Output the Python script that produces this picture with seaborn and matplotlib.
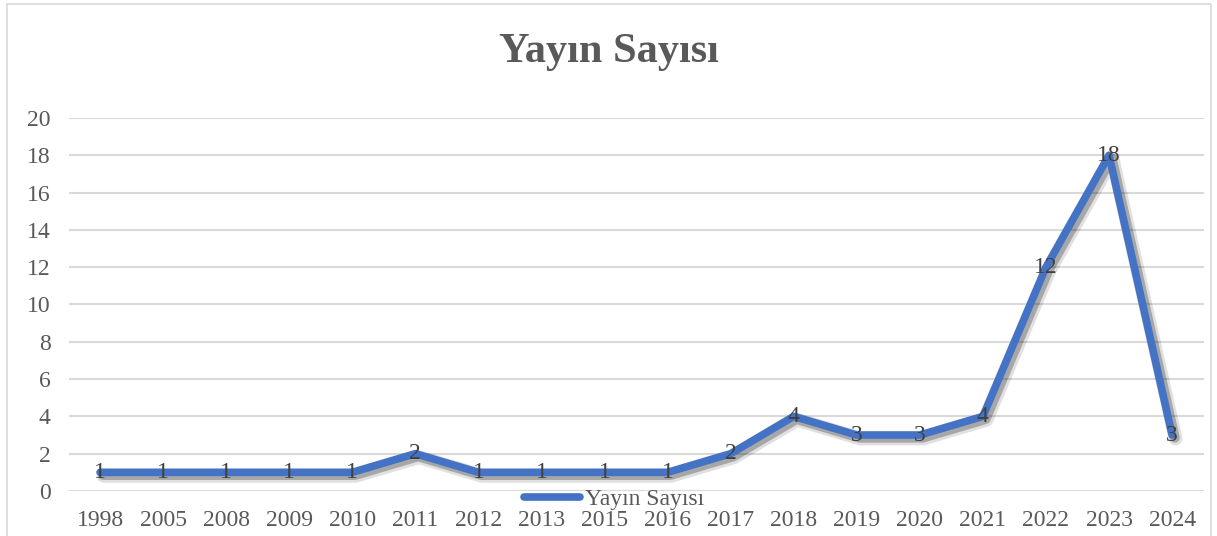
import pandas as pd
import matplotlib.pyplot as plt
import matplotlib.patheffects as pe
import matplotlib.patches as mpatches
import seaborn as sns

years = ['1998', '2005', '2008', '2009', '2010', '2011', '2012', '2013', '2015',
         '2016', '2017', '2018', '2019', '2020', '2021', '2022', '2023', '2024']
counts = [1, 1, 1, 1, 1, 2, 1, 1, 1, 1, 2, 4, 3, 3, 4, 12, 18, 3]
series_name = 'Yayın Sayısı'
y_ticks = list(range(0, 21, 2))

df = pd.DataFrame({'year': years, 'count': counts})

sns.set_theme(style="white")
plt.rcParams['font.family'] = ['Liberation Serif', 'DejaVu Serif']

fig = plt.figure(figsize=(12.17, 5.36), dpi=100)
ax = fig.add_axes([0.0563, 0.084, 0.9327, 0.696])

blue = '#4472C4'
grey_text = '#595959'

shadow = [
    pe.SimpleLineShadow(offset=(2.5, -2.5), shadow_color='black', alpha=0.12, linewidth=10),
    pe.SimpleLineShadow(offset=(2, -2), shadow_color='black', alpha=0.25, linewidth=7),
    pe.Normal(),
]

sns.lineplot(data=df, x='year', y='count', ax=ax, color=blue, linewidth=5.5,
             sort=False, label=series_name, legend=False, zorder=3)
ax.lines[0].set_path_effects(shadow)
ax.lines[0].set_solid_capstyle('round')

for i, v in enumerate(counts):
    ax.text(i, v, str(v), ha='center', va='center', fontsize=17,
            color='#404040', zorder=4)

ax.set_xlim(-0.5, len(years) - 0.5)
ax.set_ylim(0, 20)
ax.set_yticks(y_ticks)
ax.yaxis.grid(True, color='#D9D9D9', linewidth=1.5)
ax.xaxis.grid(False)
for s in ax.spines.values():
    s.set_visible(False)
ax.tick_params(axis='both', length=0, labelsize=17, labelcolor=grey_text)
ax.tick_params(axis='y', pad=13)
ax.tick_params(axis='x', pad=14)
ax.set_xlabel('')
ax.set_ylabel('')

fig.text(0.5, 1 - 52 / 536, series_name, ha='center', va='center',
         fontsize=30.5, fontweight='bold', color=grey_text)

handle = plt.Line2D([], [], color=blue, linewidth=5.5, solid_capstyle='round')
leg = fig.legend([handle], [series_name], loc='center',
                 bbox_to_anchor=(614 / 1217, 1 - 499 / 536), frameon=False,
                 fontsize=17, handlelength=2.4, handletextpad=0.2,
                 borderpad=0, borderaxespad=0)
for t in leg.get_texts():
    t.set_color(grey_text)

# outer chart border
fig.patches.append(mpatches.Rectangle((7 / 1217, -0.1), 1204 / 1217, 1.1 - 4 / 536,
                                      transform=fig.transFigure, fill=False,
                                      edgecolor='#D9D9D9', linewidth=1.2))

fig.savefig('out.png', dpi=100)
